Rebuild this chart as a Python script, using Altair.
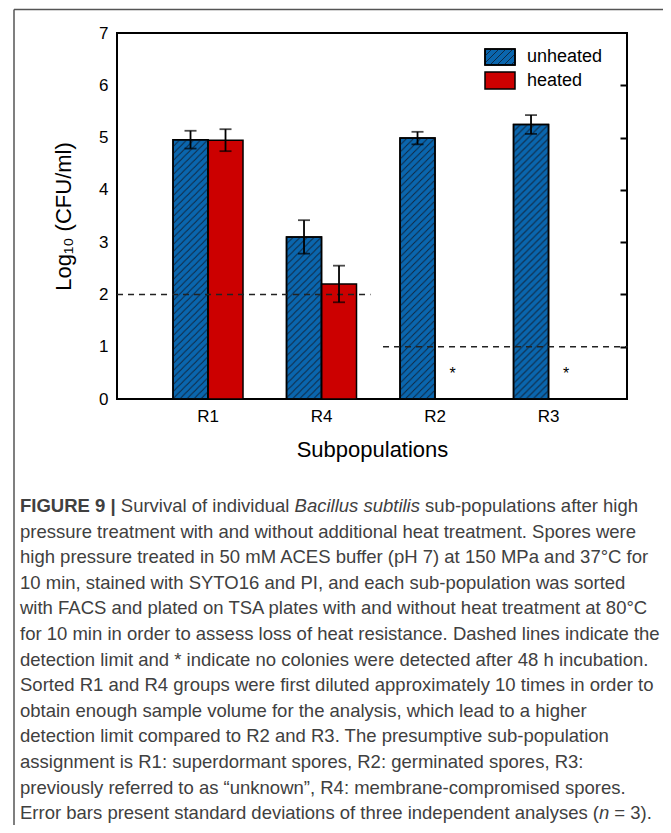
import urllib.parse
import altair as alt
import pandas as pd

# ---------------- data ----------------
groups = ["R1", "R4", "R2", "R3"]
series = ["unheated", "heated"]
unheated_mean = [4.96, 3.10, 4.99, 5.25]
unheated_sd = [0.17, 0.32, 0.12, 0.18]
heated_mean = [4.95, 2.20, None, None]
heated_sd = [0.21, 0.35, None, None]
no_colonies_groups = ["R2", "R3"]          # heated, nothing detected (*)
limit_high_groups = ["R1", "R4"]           # detection limit 2
limit_low_groups = ["R2", "R3"]            # detection limit 1
detection_limits = [2, 1]
y_tick_values = [0, 1, 2, 3, 4, 5, 6, 7]
right_tick_values = [1, 2, 3, 4, 5, 6]

caption_first = ["FIGURE 9 |", "Survival of individual", "Bacillus subtilis",
                 "sub-populations after high"]
caption_body = [
    "pressure treatment with and without additional heat treatment. Spores were",
    "high pressure treated in 50 mM ACES buffer (pH 7) at 150 MPa and 37°C for",
    "10 min, stained with SYTO16 and PI, and each sub-population was sorted",
    "with FACS and plated on TSA plates with and without heat treatment at 80°C",
    "for 10 min in order to assess loss of heat resistance. Dashed lines indicate the",
    "detection limit and * indicate no colonies were detected after 48 h incubation.",
    "Sorted R1 and R4 groups were first diluted approximately 10 times in order to",
    "obtain enough sample volume for the analysis, which lead to a higher",
    "detection limit compared to R2 and R3. The presumptive sub-population",
    "assignment is R1: superdormant spores, R2: germinated spores, R3:",
    "previously referred to as \u201cunknown\u201d, R4: membrane-compromised spores.",
]
caption_last = ["Error bars present standard deviations of three independent analyses (",
                "n", "= 3)."]

rows = []
for g, m, s in zip(groups, unheated_mean, unheated_sd):
    rows.append({"group": g, "series": "unheated", "mean": m, "sd": s})
for g, m, s in zip(groups, heated_mean, heated_sd):
    if m is not None:
        rows.append({"group": g, "series": "heated", "mean": m, "sd": s})
df = pd.DataFrame(rows)
df_star = pd.DataFrame({"group": no_colonies_groups, "series": "heated", "base": 0})
df_lim_hi = pd.DataFrame({"start": [limit_high_groups[0]], "end": [limit_high_groups[-1]],
                          "limit": [detection_limits[0]]})
df_lim_lo = pd.DataFrame({"start": [limit_low_groups[0]], "end": [limit_low_groups[-1]],
                          "limit": [detection_limits[1]]})
one = pd.DataFrame({"k": [0]})   # single row for decorations

# ---------------- styles ----------------
BLUE = "#0a66ae"
RED = "#cc0000"
FONT = "Liberation Sans"
W, H = 510, 366
CAP_FS = 18.5

# Arial / Liberation Sans advance widths (1/1000 em) for placing caption pieces
_AW = {" ": 278, "(": 333, ")": 333, "=": 584, ".": 278, "|": 260, "-": 333}
for c in "0123456789":
    _AW[c] = 556
_AW.update(dict(zip("ABCDEFGHIJKLMNOPQRSTUVWXYZ",
                    [667, 667, 722, 722, 667, 611, 778, 722, 278, 500, 667, 556, 833,
                     722, 778, 667, 778, 722, 667, 611, 722, 667, 944, 667, 667, 611])))
_AW.update(dict(zip("abcdefghijklmnopqrstuvwxyz",
                    [556, 556, 500, 556, 556, 278, 556, 556, 222, 222, 500, 222, 833,
                     556, 556, 556, 556, 333, 500, 278, 556, 500, 722, 500, 500, 500])))
_BW = dict(_AW)
_BW.update({"|": 280})


def tw(s, table=_AW, fs=CAP_FS):
    return sum(table.get(c, 556) for c in s) * fs / 1000.0


hatch_svg = (
    "<svg xmlns='http://www.w3.org/2000/svg' width='100%' height='100%'>"
    "<defs><pattern id='p' width='7' height='7' patternUnits='userSpaceOnUse'>"
    "<path d='M-1,8 L8,-1 M-1,1 L1,-1 M6,8 L8,6' stroke='#10243a' "
    "stroke-width='0.9' fill='none'/></pattern></defs>"
    "<rect width='100%' height='100%' fill='url(#p)'/></svg>"
)
HATCH = "data:image/svg+xml;charset=utf-8," + urllib.parse.quote(hatch_svg)

xscale = alt.Scale(domain=groups, paddingInner=0.3833, paddingOuter=0.4383,
                   align=0.563, round=False)
yscale = alt.Scale(domain=[0, 7], nice=False, zero=True)
xoff = alt.XOffset("series:N", sort=series,
                   scale=alt.Scale(domain=series, paddingInner=0, paddingOuter=0,
                                   round=False))

x_main = alt.X("group:N", sort=groups, scale=xscale, title="Subpopulations",
               axis=alt.Axis(labelAngle=0, ticks=False, domain=False, labelPadding=9,
                             labelFontSize=17, labelColor="black", titleFontSize=22,
                             titleFontWeight="normal", titleColor="black",
                             titlePadding=15))
x_plain = alt.X("group:N", sort=groups, scale=xscale, axis=None)

base = alt.Chart(df)

bars = base.mark_bar(stroke="black", strokeWidth=1.5).encode(
    x=x_main,
    xOffset=xoff,
    y=alt.Y("mean:Q", scale=yscale, title="Log\u2081\u2080 (CFU/ml)",
            axis=alt.Axis(values=y_tick_values, ticks=False, domain=False, grid=False,
                          labelPadding=9, labelFontSize=17, labelColor="black",
                          titleFontSize=22, titleFontWeight="normal",
                          titleColor="black", titlePadding=23)),
    color=alt.Color("series:N", scale=alt.Scale(domain=series, range=[BLUE, RED]),
                    legend=None),
)

unheated = base.transform_filter(alt.datum.series == "unheated")

hatch = unheated.mark_image(aspect=False).encode(
    x=x_plain, xOffset=xoff,
    y=alt.Y("mean:Q", scale=yscale, axis=None),
    y2=alt.datum(0),
    url=alt.value(HATCH),
)

outline = unheated.mark_bar(fillOpacity=0, stroke="black", strokeWidth=1.5).encode(
    x=x_plain, xOffset=xoff,
    y=alt.Y("mean:Q", scale=yscale, axis=None),
)

err = base.transform_calculate(
    lo="datum.mean - datum.sd", hi="datum.mean + datum.sd"
)
err_rule = err.mark_rule(color="black", strokeWidth=1.8).encode(
    x=x_plain, xOffset=xoff,
    y=alt.Y("lo:Q", scale=yscale, axis=None), y2="hi:Q",
)
cap_lo = err.mark_tick(color="black", thickness=1.8, size=12, orient="horizontal").encode(
    x=x_plain, xOffset=xoff, y=alt.Y("lo:Q", scale=yscale, axis=None))
cap_hi = err.mark_tick(color="black", thickness=1.8, size=12, orient="horizontal").encode(
    x=x_plain, xOffset=xoff, y=alt.Y("hi:Q", scale=yscale, axis=None))

stars = alt.Chart(df_star).mark_text(text="*", fontSize=16, color="black",
                                     baseline="alphabetic", dy=-20).encode(
    x=x_plain, xOffset=xoff,
    y=alt.Y("base:Q", scale=yscale, axis=None),
)

lim_hi = alt.Chart(df_lim_hi).mark_rule(color="#222", strokeWidth=1.5,
                                        strokeDash=[6, 5], xOffset=-56,
                                        x2Offset=14).encode(
    x=alt.X("start:N", sort=groups, scale=xscale, axis=None, bandPosition=0),
    x2=alt.X2("end:N", bandPosition=1),
    y=alt.Y("limit:Q", scale=yscale, title=None,
            axis=alt.Axis(orient="right", values=right_tick_values, labels=False,
                          domain=False, grid=False, ticks=True, tickSize=7,
                          tickWidth=2, tickColor="black", offset=-7)),
)
lim_lo = alt.Chart(df_lim_lo).mark_rule(color="#222", strokeWidth=1.5,
                                        strokeDash=[6, 5], xOffset=-17,
                                        x2Offset=44).encode(
    x=alt.X("start:N", sort=groups, scale=xscale, axis=None, bandPosition=0),
    x2=alt.X2("end:N", bandPosition=1),
    y=alt.Y("limit:Q", scale=yscale, axis=None),
)

# ---------------- legend (inside plot) ----------------
dec = alt.Chart(one)
leg_blue = dec.mark_rect(fill=BLUE, stroke="black", strokeWidth=1.5).encode(
    x=alt.value(368), x2=alt.value(398), y=alt.value(16), y2=alt.value(32))
leg_hatch = dec.mark_image(aspect=False).encode(
    x=alt.value(368), x2=alt.value(398), y=alt.value(16), y2=alt.value(32),
    url=alt.value(HATCH))
leg_blue_o = dec.mark_rect(fillOpacity=0, stroke="black", strokeWidth=1.5).encode(
    x=alt.value(368), x2=alt.value(398), y=alt.value(16), y2=alt.value(32))
leg_red = dec.mark_rect(fill=RED, stroke="black", strokeWidth=1.5).encode(
    x=alt.value(368), x2=alt.value(398), y=alt.value(39), y2=alt.value(56))
leg_t1 = dec.mark_text(align="left", baseline="middle", fontSize=18,
                       color="black", text=series[0]).encode(
    x=alt.value(410), y=alt.value(24))
leg_t2 = dec.mark_text(align="left", baseline="middle", fontSize=18,
                       color="black", text=series[1]).encode(
    x=alt.value(410), y=alt.value(47.5))

# ---------------- caption & frame ----------------
CAP = dict(align="left", baseline="alphabetic", fontSize=CAP_FS, color="#404040",
           font=FONT)
X0 = -97
sp = tw(" ")
x1b = X0 + tw(caption_first[0], _BW) + sp
x1c = x1b + tw(caption_first[1]) + sp
x1d = x1c + tw(caption_first[2]) + sp
x13b = X0 + tw(caption_last[0])
x13c = x13b + tw(caption_last[1]) + sp
LH = 25.6
Y1 = 479.0
YB = Y1 + LH
Y13 = Y1 + 12 * LH

c1a = dec.mark_text(text=caption_first[0], fontWeight="bold", **CAP).encode(
    x=alt.value(X0), y=alt.value(Y1))
c1b = dec.mark_text(text=caption_first[1], **CAP).encode(
    x=alt.value(x1b), y=alt.value(Y1))
c1c = dec.mark_text(text=caption_first[2], fontStyle="italic", **CAP).encode(
    x=alt.value(x1c), y=alt.value(Y1))
c1d = dec.mark_text(text=caption_first[3], **CAP).encode(
    x=alt.value(x1d), y=alt.value(Y1))
body = dec.mark_text(text=caption_body, lineHeight=LH, **CAP).encode(
    x=alt.value(X0), y=alt.value(YB))
c13a = dec.mark_text(text=caption_last[0], **CAP).encode(
    x=alt.value(X0), y=alt.value(Y13))
c13b = dec.mark_text(text=caption_last[1], fontStyle="italic", **CAP).encode(
    x=alt.value(x13b), y=alt.value(Y13))
c13c = dec.mark_text(text=caption_last[2], **CAP).encode(
    x=alt.value(x13c), y=alt.value(Y13))

frame_top = dec.mark_rule(color="#555555", strokeWidth=1.5).encode(
    x=alt.value(-103), x2=alt.value(560), y=alt.value(-23.5))
frame_left = dec.mark_rule(color="#555555", strokeWidth=1.5).encode(
    x=alt.value(-103), y=alt.value(-23.5), y2=alt.value(800))

# whole svg kept inside the 671x833 window (8px page margin on every side)
chart = alt.layer(
    bars, hatch, outline, lim_hi, lim_lo, err_rule, cap_lo, cap_hi, stars,
    leg_blue, leg_hatch, leg_blue_o, leg_red, leg_t1, leg_t2,
    c1a, c1b, c1c, c1d, body, c13a, c13b, c13c, frame_top, frame_left,
).resolve_axis(x="independent", y="independent").properties(
    width=W, height=H,
    autosize=alt.AutoSizeParams(type="none"),
    padding={"left": 109, "top": 25, "right": 36, "bottom": 426},
).configure(font=FONT).configure_view(stroke="black", strokeWidth=2)

chart.save("out.html", embed_options={"renderer": "svg", "actions": False})
